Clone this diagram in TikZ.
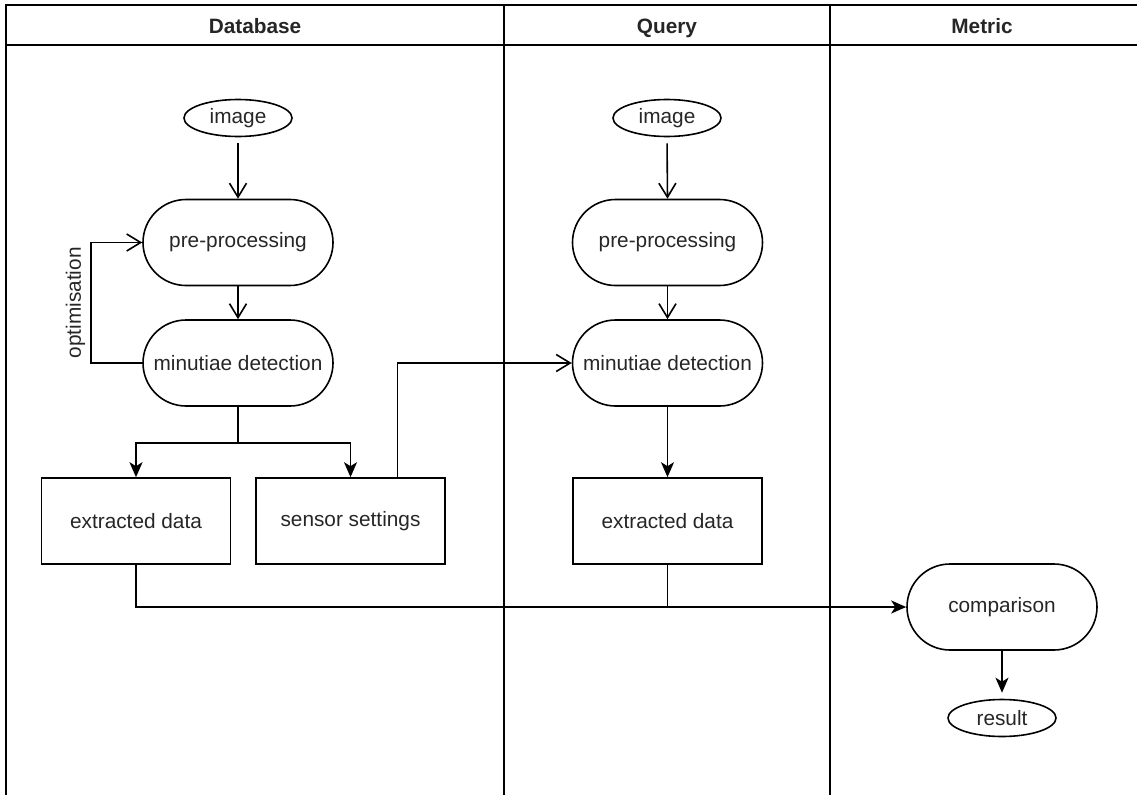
\documentclass[tikz,border=0pt]{standalone}
\usepackage{fontspec}
\setmainfont{Liberation Sans}
\usetikzlibrary{shapes.geometric,arrows.meta}
\begin{document}
\begin{tikzpicture}[x=1pt,y=-1pt,
  every node/.style={font=\fontsize{20.8}{24}\selectfont, text=black!85},
  lane/.style={line width=1.8pt, draw=black},
  conn/.style={line width=1.6pt, draw=black},
  stadium/.style={draw, line width=1.6pt, rectangle, rounded corners=43pt, minimum width=190pt, minimum height=86pt, inner sep=0pt},
  oval/.style={draw, line width=1.6pt, ellipse, minimum width=108pt, minimum height=37pt, inner sep=0pt},
  box/.style={draw, line width=1.6pt, rectangle, minimum width=189pt, minimum height=86pt, inner sep=0pt},
  hdr/.style={font=\fontsize{20.8}{24}\selectfont\bfseries, text=black!85, anchor=base},
  openarr/.style={-{Straight Barb[length=14pt,width=17pt,line width=1.6pt]}},
  fillarr/.style={-{Stealth[length=15pt,width=13pt,inset=4pt]}}
]
\useasboundingbox (0,0) rectangle (1137,795);
% lanes
\draw[lane] (6,795) -- (6,5) -- (1137,5);
\draw[lane] (6,45) -- (1137,45);
\draw[lane] (504,5) -- (504,795);
\draw[lane] (830,5) -- (830,795);
\node[hdr] (hdb) at (255,33) {Database};
\node[hdr] (hq) at (667,33) {Query};
\node[hdr] (hm) at (982,33) {Metric};
% database column
\node[oval] (idb) at (238,118) {image};
\node[stadium] (pdb) at (238,242.5) {pre-processing};
\node[stadium] (mdb) at (238,363) {minutiae detection};
\node[box] (edb) at (136,521) {extracted data};
\node[box] (sdb) at (350.5,521) {sensor settings};
% query column
\node[oval] (iq) at (667,118) {image};
\node[stadium] (pq) at (667.5,242.5) {pre-processing};
\node[stadium] (mq) at (667.5,363) {minutiae detection};
\node[box] (eq) at (667.5,521) {extracted data};
% metric column
\node[stadium] (cmp) at (1002,607) {comparison};
\node[oval] (res) at (1002,718) {result};
% connectors
\draw[conn,openarr,shorten <=6pt] (idb.south) -- (pdb.north);
\draw[conn,openarr] (pdb.south) -- (mdb.north);
\draw[conn,openarr] (mdb.west) -- ++(-51,0) |- node[pos=0.25, rotate=90, anchor=south, yshift=2pt] (opt) {optimisation} (pdb.west);
\draw[conn,fillarr] (mdb.south) -- ++(0,36) -| (edb.north);
\draw[conn,fillarr] (mdb.south) -- ++(0,36) -| (sdb.north);
\draw[conn,openarr] ([xshift=47pt]sdb.north) |- (mq.west);
\draw[conn,openarr,shorten <=6pt] (iq.south) -- (pq.north);
\draw[conn,openarr] (pq.south) -- (mq.north);
\draw[conn,fillarr] (mq.south) -- (eq.north);
\draw[conn,fillarr] (edb.south) |- (cmp.west);
\draw[conn] (eq.south) -- (eq.south |- cmp.west);
\draw[conn,fillarr,shorten >=6pt] (cmp.south) -- (res.north);
\end{tikzpicture}
\end{document}
